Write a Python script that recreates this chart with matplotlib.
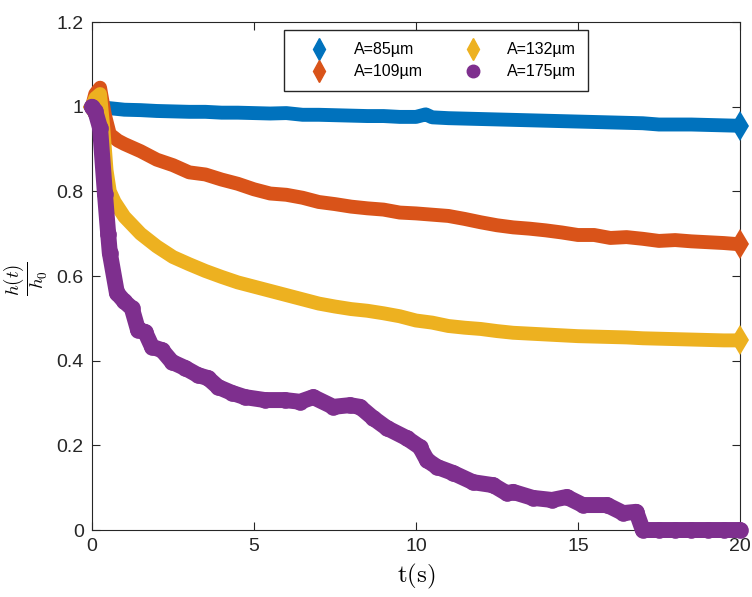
import matplotlib.pyplot as plt

# values
t_85 = [0, 0.5, 1, 1.5, 2, 2.5, 3, 3.5, 4, 4.5, 5, 5.5, 6, 6.5, 7, 7.5, 8, 8.5, 9, 9.5,
        10, 10.3, 10.5, 11, 11.5, 12, 12.5, 13, 13.5, 14, 14.5, 15, 15.5, 16, 16.5, 17,
        17.5, 18, 18.5, 19, 19.5, 20]
h_85 = [1.0, 0.997, 0.993, 0.992, 0.990, 0.989, 0.988, 0.988, 0.986, 0.986, 0.985, 0.984,
        0.985, 0.981, 0.981, 0.980, 0.979, 0.978, 0.978, 0.976, 0.976, 0.982, 0.975, 0.973,
        0.972, 0.971, 0.970, 0.969, 0.968, 0.967, 0.966, 0.965, 0.964, 0.963, 0.962, 0.961,
        0.958, 0.958, 0.958, 0.957, 0.956, 0.955]

t_109 = [0, 0.1, 0.25, 0.4, 0.55, 0.8, 1, 1.5, 2, 2.5, 3, 3.5, 4, 4.5, 5, 5.5, 6, 6.5, 7,
         7.5, 8, 8.5, 9, 9.5, 10, 10.5, 11, 11.5, 12, 12.5, 13, 13.5, 14, 14.5, 15, 15.5,
         16, 16.5, 17, 17.5, 18, 18.5, 19, 19.5, 20]
h_109 = [1.0, 1.03, 1.045, 0.98, 0.935, 0.92, 0.912, 0.895, 0.875, 0.862, 0.845, 0.840,
         0.828, 0.818, 0.805, 0.795, 0.792, 0.785, 0.775, 0.770, 0.764, 0.760, 0.757, 0.750,
         0.748, 0.745, 0.742, 0.735, 0.727, 0.720, 0.715, 0.712, 0.708, 0.703, 0.697, 0.697,
         0.690, 0.692, 0.688, 0.683, 0.685, 0.682, 0.680, 0.678, 0.675]

t_132 = [0, 0.1, 0.25, 0.35, 0.45, 0.55, 0.7, 1, 1.5, 2, 2.5, 3, 3.5, 4, 4.5, 5, 5.5, 6,
         6.5, 7, 7.5, 8, 8.5, 9, 9.5, 10, 10.5, 11, 11.5, 12, 12.5, 13, 13.5, 14, 14.5, 15,
         15.5, 16, 16.5, 17, 17.5, 18, 18.5, 19, 19.5, 20]
h_132 = [1.0, 1.02, 1.03, 0.95, 0.85, 0.80, 0.775, 0.740, 0.700, 0.670, 0.645, 0.628,
         0.612, 0.598, 0.585, 0.575, 0.565, 0.555, 0.545, 0.535, 0.528, 0.522, 0.518, 0.512,
         0.505, 0.495, 0.490, 0.482, 0.478, 0.475, 0.470, 0.466, 0.464, 0.462, 0.460, 0.458,
         0.457, 0.456, 0.455, 0.453, 0.452, 0.451, 0.450, 0.449, 0.448, 0.448]

t_175 = [0, 0.1, 0.25, 0.4, 0.5, 0.55, 0.77, 1.0, 1.23, 1.42, 1.64, 1.85, 2.16, 2.47, 2.87,
         3.27, 3.58, 3.89, 4.32, 4.72, 5.34, 5.96, 6.42, 6.83, 7.45, 7.96, 8.27, 8.67, 9.1,
         9.72, 10.12, 10.34, 10.65, 11.14, 11.76, 12.38, 12.8, 13.0, 13.6, 14.2, 14.65,
         15.15, 15.9, 16.4, 16.8, 17.0, 17.5, 18, 18.5, 19, 19.5, 20]
h_175 = [1.0, 0.99, 0.95, 0.795, 0.70, 0.655, 0.56, 0.54, 0.524, 0.473, 0.468, 0.433,
         0.425, 0.397, 0.383, 0.366, 0.359, 0.338, 0.324, 0.314, 0.307, 0.307, 0.303, 0.314,
         0.291, 0.295, 0.291, 0.265, 0.241, 0.217, 0.196, 0.165, 0.149, 0.135, 0.113, 0.106,
         0.087, 0.090, 0.076, 0.071, 0.078, 0.059, 0.059, 0.040, 0.043, 0.0, 0.0, 0.0, 0.0,
         0.0, 0.0, 0.0]

labels = ["A=85µm", "A=109µm", "A=132µm", "A=175µm"]
colors = ["#0072BD", "#D95319", "#EDB120", "#7E2F8E"]
markers = ["d", "d", "d", "o"]
series = [(t_85, h_85), (t_109, h_109), (t_132, h_132), (t_175, h_175)]

plt.rcParams["font.family"] = ["Liberation Sans", "DejaVu Sans"]
plt.rcParams["mathtext.fontset"] = "cm"

fig = plt.figure(figsize=(7.52, 5.97), dpi=100)
ax = fig.add_axes([0.1223, 0.1122, 0.8617, 0.8508])

for (t, h), lab, c, m in zip(series, labels, colors, markers):
    if m == "o":
        ax.plot(t, h, color=c, lw=11.5, marker="o", markersize=12, markeredgewidth=0,
                solid_capstyle="round", solid_joinstyle="round", clip_on=False)
    else:
        ax.plot(t, h, color=c, lw=10, marker="d", markersize=15, markeredgewidth=0,
                markevery=[0, len(t) - 1], solid_capstyle="round",
                solid_joinstyle="round", clip_on=False)
    # legend handle: marker only
    ax.plot([], [], ls="none", marker=m, color=c,
            markersize=11 if m == "d" else 9, label=lab)

ax.set_xlim(0, 20)
ax.set_ylim(0, 1.2)
ax.set_xticks([0, 5, 10, 15, 20])
ax.set_yticks([0, 0.2, 0.4, 0.6, 0.8, 1.0, 1.2])
ax.set_yticklabels(["0", "0.2", "0.4", "0.6", "0.8", "1", "1.2"])
ax.tick_params(direction="in", length=6, width=0.8, top=True, right=True,
               labelsize=14, colors="#262626", pad=6)
for sp in ax.spines.values():
    sp.set_color("#262626")
    sp.set_linewidth(0.8)
    sp.set_zorder(0.5)

ax.set_xlabel(r"$\mathrm{t(s)}$", fontsize=18, labelpad=5)
ax.set_ylabel(r"$\dfrac{h(t)}{h_0}$", fontsize=13.5)
ax.yaxis.set_label_coords(-0.064, 0.495)

ax.legend(ncol=2, loc="upper center", bbox_to_anchor=(0.531, 0.984), fontsize=11.5,
          frameon=True, fancybox=False, edgecolor="#262626", framealpha=1,
          handlelength=2.9, handletextpad=0.7, columnspacing=1.7,
          borderpad=0.75, labelspacing=0.45, borderaxespad=0)

fig.savefig("out.png", dpi=100)
